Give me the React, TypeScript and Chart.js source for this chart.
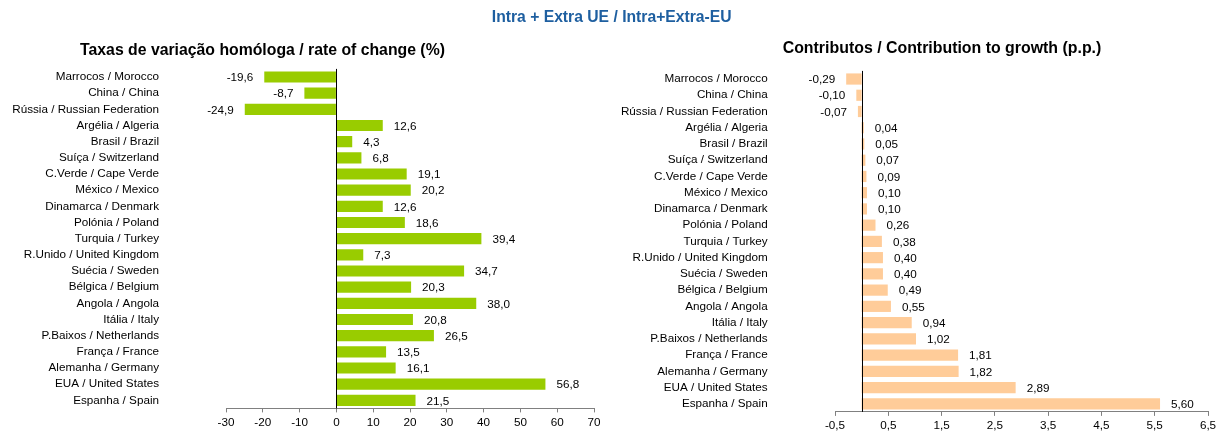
import React, { useEffect, useRef } from "react";
import { Chart, registerables } from "chart.js";

Chart.register(...registerables);

const categories = [
  "Marrocos / Morocco",
  "China / China",
  "Rússia / Russian Federation",
  "Argélia / Algeria",
  "Brasil / Brazil",
  "Suíça / Switzerland",
  "C.Verde / Cape Verde",
  "México / Mexico",
  "Dinamarca / Denmark",
  "Polónia / Poland",
  "Turquia / Turkey",
  "R.Unido / United Kingdom",
  "Suécia / Sweden",
  "Bélgica / Belgium",
  "Angola / Angola",
  "Itália / Italy",
  "P.Baixos / Netherlands",
  "França / France",
  "Alemanha / Germany",
  "EUA / United States",
  "Espanha / Spain",
];

const rateValues = [
  -19.6, -8.7, -24.9, 12.6, 4.3, 6.8, 19.1, 20.2, 12.6, 18.6, 39.4, 7.3, 34.7,
  20.3, 38.0, 20.8, 26.5, 13.5, 16.1, 56.8, 21.5,
];

const contribValues = [
  -0.29, -0.1, -0.07, 0.04, 0.05, 0.07, 0.09, 0.1, 0.1, 0.26, 0.38, 0.4, 0.4,
  0.49, 0.55, 0.94, 1.02, 1.81, 1.82, 2.89, 5.6,
];

const rateTicks = [-30, -20, -10, 0, 10, 20, 30, 40, 50, 60, 70];
const contribTicks = [-0.5, 0.5, 1.5, 2.5, 3.5, 4.5, 5.5, 6.5];

const mainTitle = "Intra + Extra UE / Intra+Extra-EU";
const leftTitle = "Taxas de variação homóloga / rate of change (%)";
const rightTitle = "Contributos / Contribution to growth (p.p.)";

const FONT = "'Liberation Sans', Arial, Helvetica, sans-serif";
const LABEL_SIZE = 11.7;

function fmt(v: number, d: number) {
  return v.toFixed(d).replace(".", ",");
}

type Cfg = {
  values: number[];
  ticks: number[];
  decimals: number;
  tickDecimals: number;
  color: string;
  padTop: number;
  padRight: number;
  yAxisWidth: number;
  xAxisHeight: number;
  labelPad: number;
};

function BarChart({ cfg }: { cfg: Cfg }) {
  const ref = useRef<HTMLCanvasElement | null>(null);
  useEffect(() => {
    if (!ref.current) return;
    const tickMin = cfg.ticks[0];
    const tickMax = cfg.ticks[cfg.ticks.length - 1];
    const valueLabels = {
      id: "valueLabels",
      afterDatasetsDraw(chart: any) {
        const ctx = chart.ctx;
        const meta = chart.getDatasetMeta(0);
        ctx.save();
        ctx.font = `${LABEL_SIZE}px ${FONT}`;
        ctx.fillStyle = "#000";
        ctx.textBaseline = "middle";
        meta.data.forEach((el: any, i: number) => {
          const v = cfg.values[i];
          const txt = fmt(v, cfg.decimals);
          if (v >= 0) {
            ctx.textAlign = "left";
            ctx.fillText(txt, el.x + 11, el.y + 1);
          } else {
            ctx.textAlign = "right";
            ctx.fillText(txt, el.x - 11, el.y + 1);
          }
        });
        ctx.restore();
      },
    };
    const zeroLine = {
      id: "zeroLine",
      afterDatasetsDraw(chart: any) {
        const ctx = chart.ctx;
        const x = Math.round(chart.scales.x.getPixelForValue(0)) + 0.5;
        ctx.save();
        ctx.strokeStyle = "#000";
        ctx.lineWidth = 1;
        ctx.beginPath();
        ctx.moveTo(x, chart.chartArea.top);
        ctx.lineTo(x, chart.chartArea.bottom);
        ctx.stroke();
        ctx.restore();
      },
    };
    const chart = new Chart(ref.current, {
      type: "bar",
      data: {
        labels: categories,
        datasets: [
          {
            data: cfg.values,
            backgroundColor: cfg.color,
            borderWidth: 0,
            barPercentage: 0.69,
            categoryPercentage: 1,
          },
        ],
      },
      options: {
        indexAxis: "y",
        animation: false,
        responsive: false,
        maintainAspectRatio: false,
        devicePixelRatio: 1,
        layout: {
          padding: { top: cfg.padTop, right: cfg.padRight, left: 0, bottom: 0 },
        },
        plugins: {
          legend: { display: false },
          tooltip: { enabled: false },
          title: { display: false },
        },
        scales: {
          x: {
            type: "linear",
            min: tickMin,
            max: tickMax,
            afterBuildTicks: (scale: any) => {
              scale.ticks = cfg.ticks.map((v) => ({ value: v }));
            },
            afterFit: (scale: any) => {
              scale.height = cfg.xAxisHeight;
              scale.paddingLeft = 0;
              scale.paddingRight = 0;
            },
            grid: {
              display: true,
              drawOnChartArea: false,
              drawTicks: true,
              tickLength: 4,
              tickColor: "#808080",
            },
            border: { display: true, color: "#808080", width: 1 },
            ticks: {
              padding: 3,
              maxRotation: 0,
              autoSkip: false,
              color: "#000",
              font: { family: FONT, size: LABEL_SIZE },
              callback: (v: any) => fmt(Number(v), cfg.tickDecimals),
            },
          },
          y: {
            type: "category",
            afterFit: (scale: any) => {
              scale.width = cfg.yAxisWidth;
              scale.paddingTop = 0;
              scale.paddingBottom = 0;
            },
            grid: { display: false, drawTicks: false },
            border: { display: false },
            ticks: {
              padding: cfg.labelPad,
              autoSkip: false,
              color: "#000",
              font: { family: FONT, size: LABEL_SIZE },
            },
          },
        },
      },
      plugins: [valueLabels, zeroLine],
    } as any);
    return () => chart.destroy();
  }, [cfg]);
  return <canvas ref={ref} width={616} height={432} style={{ display: "block" }} />;
}

const leftCfg: Cfg = {
  values: rateValues,
  ticks: rateTicks,
  decimals: 1,
  tickDecimals: 0,
  color: "#99CC00",
  padTop: 68.9,
  padRight: 22,
  yAxisWidth: 226,
  xAxisHeight: 23.6,
  labelPad: 67,
};

const rightCfg: Cfg = {
  values: contribValues,
  ticks: contribTicks,
  decimals: 2,
  tickDecimals: 1,
  color: "#FFCC99",
  padTop: 70.9,
  padRight: 24,
  yAxisWidth: 219,
  xAxisHeight: 20.1,
  labelPad: 67.3,
};

const titleStyle = (size: number, color: string): React.CSSProperties => ({
  position: "absolute",
  fontFamily: FONT,
  fontWeight: "bold",
  fontSize: size,
  lineHeight: `${size}px`,
  color,
  whiteSpace: "nowrap",
  transform: "translateX(-50%)",
});

export default function App() {
  return (
    <div
      style={{
        position: "absolute",
        left: 0,
        top: 0,
        width: 1232,
        height: 432,
        background: "#fff",
        overflow: "hidden",
      }}
    >
      <div style={{ position: "absolute", left: 0, top: 0 }}>
        <BarChart cfg={leftCfg} />
      </div>
      <div style={{ position: "absolute", left: 616, top: 0 }}>
        <BarChart cfg={rightCfg} />
      </div>
      <div style={{ ...titleStyle(15.7, "#1E5FA0"), left: 611.7, top: 9.4 }}>{mainTitle}</div>
      <div style={{ ...titleStyle(15.8, "#000"), left: 262.5, top: 42 }}>{leftTitle}</div>
      <div style={{ ...titleStyle(15.9, "#000"), left: 942, top: 39.9 }}>{rightTitle}</div>
    </div>
  );
}
